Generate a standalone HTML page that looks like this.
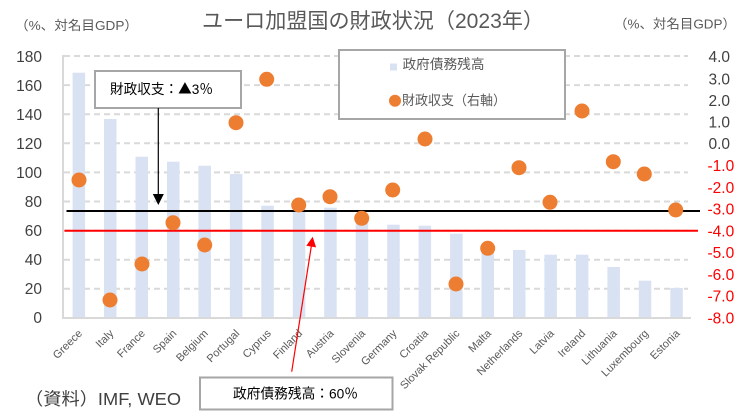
<!DOCTYPE html>
<html><head><meta charset="utf-8"><style>
html,body{margin:0;padding:0;background:#fff;}
svg{display:block;font-family:"Liberation Sans","Noto Sans CJK JP",sans-serif;}
</style></head><body>
<svg width="752" height="418" viewBox="0 0 752 418" xmlns="http://www.w3.org/2000/svg">
<rect width="752" height="418" fill="#fff"/>
<!-- gridlines -->
<g stroke="#D9D9D9" stroke-width="2" stroke-dasharray="6 4">
<line x1="64" x2="688" y1="56" y2="56"/>
<line x1="64" x2="688" y1="85.1" y2="85.1"/>
<line x1="64" x2="688" y1="114.2" y2="114.2"/>
<line x1="64" x2="688" y1="143.3" y2="143.3"/>
<line x1="64" x2="688" y1="172.4" y2="172.4"/>
<line x1="64" x2="688" y1="201.5" y2="201.5"/>
<line x1="64" x2="688" y1="230.6" y2="230.6"/>
<line x1="64" x2="688" y1="259.7" y2="259.7"/>
<line x1="64" x2="688" y1="288.8" y2="288.8"/>
</g>
<!-- bars -->
<g fill="#D9E2F3">
<rect x="72.6" y="72.7" width="12.5" height="245.3"/>
<rect x="104.0" y="119" width="12.5" height="199"/>
<rect x="135.5" y="156.7" width="12.5" height="161.3"/>
<rect x="167.0" y="161.7" width="12.5" height="156.3"/>
<rect x="198.4" y="165.7" width="12.5" height="152.3"/>
<rect x="229.9" y="174" width="12.5" height="144"/>
<rect x="261.3" y="205.7" width="12.5" height="112.3"/>
<rect x="292.8" y="205.5" width="12.5" height="112.5"/>
<rect x="324.2" y="207.7" width="12.5" height="110.3"/>
<rect x="355.7" y="217" width="12.5" height="101"/>
<rect x="387.2" y="224.7" width="12.5" height="93.3"/>
<rect x="418.6" y="225.7" width="12.5" height="92.3"/>
<rect x="450.1" y="233.7" width="12.5" height="84.3"/>
<rect x="481.5" y="247" width="12.5" height="71"/>
<rect x="513.0" y="250" width="12.5" height="68"/>
<rect x="544.4" y="254.7" width="12.5" height="63.3"/>
<rect x="575.9" y="254.7" width="12.5" height="63.3"/>
<rect x="607.4" y="267" width="12.5" height="51"/>
<rect x="638.8" y="280.7" width="12.5" height="37.3"/>
<rect x="670.3" y="288" width="12.5" height="30"/>
</g>
<!-- axes -->
<line x1="63" x2="63" y1="55" y2="319" stroke="#D9D9D9" stroke-width="2"/>
<line x1="62" x2="691" y1="318" y2="318" stroke="#D9D9D9" stroke-width="2"/>
<!-- reference lines -->
<line x1="66.5" x2="700" y1="211" y2="211" stroke="#000" stroke-width="2"/>
<line x1="64.5" x2="698" y1="230.7" y2="230.7" stroke="#FF0000" stroke-width="2"/>
<!-- dots -->
<g fill="#ED7D31">
<circle cx="79" cy="180" r="7.5"/>
<circle cx="110" cy="300" r="7.5"/>
<circle cx="142" cy="264" r="7.5"/>
<circle cx="173" cy="222.7" r="7.5"/>
<circle cx="204.7" cy="245" r="7.5"/>
<circle cx="236" cy="122.7" r="7.5"/>
<circle cx="266.7" cy="79.3" r="7.5"/>
<circle cx="298.7" cy="205" r="7.5"/>
<circle cx="330" cy="196.7" r="7.5"/>
<circle cx="361.7" cy="218.3" r="7.5"/>
<circle cx="392.7" cy="190" r="7.5"/>
<circle cx="425" cy="139" r="7.5"/>
<circle cx="456" cy="284" r="7.5"/>
<circle cx="487.7" cy="248.3" r="7.5"/>
<circle cx="519" cy="167.7" r="7.5"/>
<circle cx="550" cy="202.3" r="7.5"/>
<circle cx="582" cy="111" r="7.5"/>
<circle cx="613.3" cy="161.7" r="7.5"/>
<circle cx="644.3" cy="174" r="7.5"/>
<circle cx="675.7" cy="210" r="7.5"/>
</g>
<!-- left axis labels -->
<g font-size="15.5" fill="#404040" text-anchor="end">
<text x="42" y="62">180</text>
<text x="42" y="91">160</text>
<text x="42" y="120">140</text>
<text x="42" y="149">120</text>
<text x="42" y="178">100</text>
<text x="42" y="207">80</text>
<text x="42" y="236">60</text>
<text x="42" y="265">40</text>
<text x="42" y="294">20</text>
<text x="42" y="323">0</text>
</g>
<!-- right axis labels -->
<g font-size="15.5" fill="#404040">
<text x="708.5" y="62.2">4.0</text>
<text x="708.5" y="84.5">3.0</text>
<text x="708.5" y="105.8">2.0</text>
<text x="708.5" y="127.5">1.0</text>
<text x="708.5" y="149.2">0.0</text>
</g>
<g font-size="15.5" fill="#FF0000">
<text x="707.5" y="171">-1.0</text>
<text x="707.5" y="192.8">-2.0</text>
<text x="707.5" y="214.6">-3.0</text>
<text x="707.5" y="236.4">-4.0</text>
<text x="707.5" y="258.2">-5.0</text>
<text x="707.5" y="279.9">-6.0</text>
<text x="707.5" y="301.7">-7.0</text>
<text x="707.5" y="323.5">-8.0</text>
</g>
<!-- x labels -->
<g font-size="11" fill="#595959" text-anchor="end">
<text transform="translate(82.8,334) rotate(-45)">Greece</text>
<text transform="translate(114.3,334) rotate(-45)">Italy</text>
<text transform="translate(145.7,334) rotate(-45)">France</text>
<text transform="translate(177.2,334) rotate(-45)">Spain</text>
<text transform="translate(208.6,334) rotate(-45)">Belgium</text>
<text transform="translate(240.1,334) rotate(-45)">Portugal</text>
<text transform="translate(271.6,334) rotate(-45)">Cyprus</text>
<text transform="translate(303.0,334) rotate(-45)">Finland</text>
<text transform="translate(334.5,334) rotate(-45)">Austria</text>
<text transform="translate(365.9,334) rotate(-45)">Slovenia</text>
<text transform="translate(397.4,334) rotate(-45)">Germany</text>
<text transform="translate(428.8,334) rotate(-45)">Croatia</text>
<text transform="translate(460.3,334) rotate(-45)">Slovak Republic</text>
<text transform="translate(491.8,334) rotate(-45)">Malta</text>
<text transform="translate(523.2,334) rotate(-45)">Netherlands</text>
<text transform="translate(554.7,334) rotate(-45)">Latvia</text>
<text transform="translate(586.1,334) rotate(-45)">Ireland</text>
<text transform="translate(617.6,334) rotate(-45)">Lithuania</text>
<text transform="translate(649.0,334) rotate(-45)">Luxembourg</text>
<text transform="translate(680.5,334) rotate(-45)">Estonia</text>
</g>
<!-- title -->
<text x="202" y="28" font-size="21" fill="#595959" textLength="342" lengthAdjust="spacingAndGlyphs">ユーロ加盟国の財政状況（2023年）</text>
<!-- unit labels -->
<text x="15" y="30" font-size="13" fill="#595959" textLength="123" lengthAdjust="spacingAndGlyphs">（%、対名目GDP）</text>
<text x="614" y="28.5" font-size="13" fill="#595959" textLength="122" lengthAdjust="spacingAndGlyphs">（%、対名目GDP）</text>
<!-- legend -->
<rect x="339" y="50" width="226" height="69" fill="#fff" stroke="#A6A6A6" stroke-width="2"/>
<rect x="390" y="63.5" width="7" height="7" fill="#D9E2F3"/>
<text x="402.5" y="69" font-size="13.5" fill="#595959" textLength="82" lengthAdjust="spacingAndGlyphs">政府債務残高</text>
<circle cx="395" cy="100.7" r="6" fill="#ED7D31"/>
<text x="402" y="105" font-size="13.5" fill="#595959" textLength="104" lengthAdjust="spacingAndGlyphs">財政収支（右軸）</text>
<!-- annotation 1 -->
<rect x="95" y="71" width="146" height="37" fill="#fff" stroke="#A6A6A6" stroke-width="2"/>
<text x="110" y="94" font-size="14" fill="#000" textLength="103" lengthAdjust="spacingAndGlyphs">財政収支：<tspan font-family="Noto Sans CJK JP, sans-serif">▲</tspan>3％</text>
<line x1="158.3" x2="158.3" y1="108" y2="195" stroke="#000" stroke-width="1.2"/>
<polygon points="158.3,205 152.8,194 163.8,194" fill="#000"/>
<!-- annotation 2 -->
<line x1="291.7" y1="371.7" x2="311.5" y2="245" stroke="#FF0000" stroke-width="1.2"/>
<polygon points="312.7,236.7 316.1,247.4 306.3,245.8" fill="#FF0000"/>
<rect x="200" y="377.5" width="192.5" height="32" fill="#fff" stroke="#A6A6A6" stroke-width="2"/>
<text x="233" y="398.5" font-size="14" fill="#000" textLength="125" lengthAdjust="spacingAndGlyphs">政府債務残高：60％</text>
<!-- source -->
<text x="25" y="405" font-size="17.5" fill="#404040" textLength="156" lengthAdjust="spacingAndGlyphs">（資料）IMF, WEO</text>
</svg>
</body></html>
